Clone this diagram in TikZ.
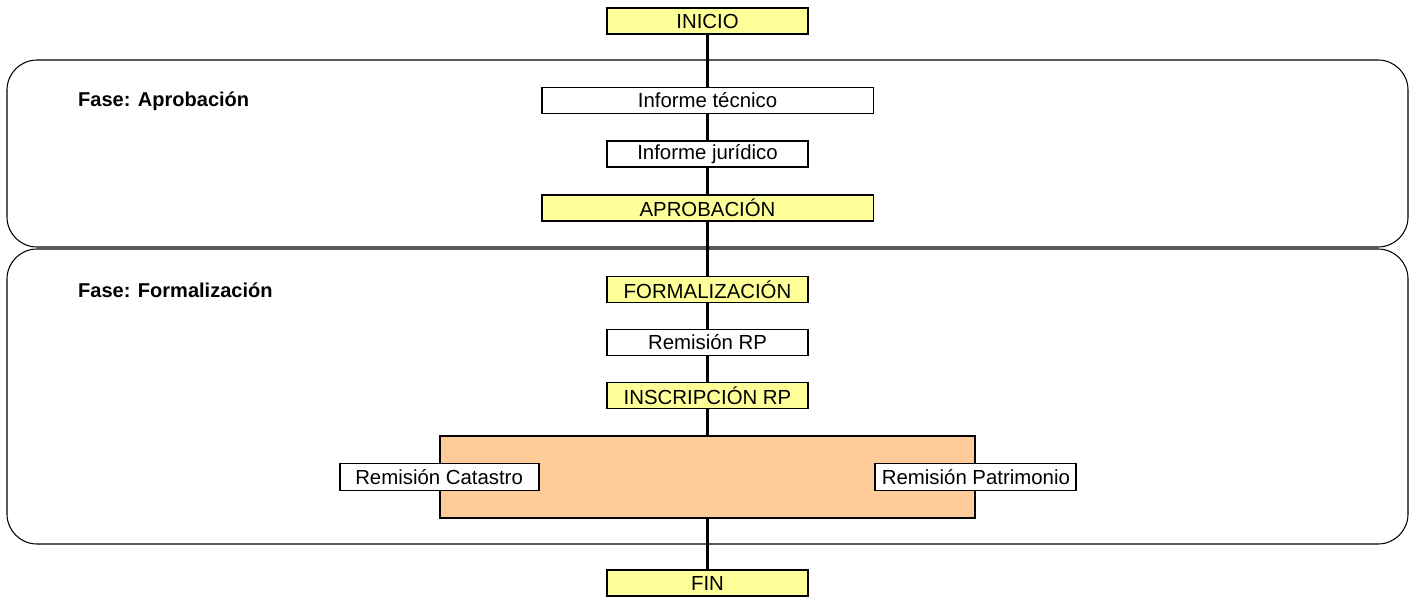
\documentclass[tikz,border=0pt]{standalone}
\usepackage{fontspec}
\setmainfont{Liberation Sans}
\usetikzlibrary{positioning}
\definecolor{amarillo}{HTML}{FFFF99}
\definecolor{naranja}{HTML}{FFCC99}

\begin{document}
\begin{tikzpicture}[
    x=0.02cm, y=-0.02cm,
    font=\fontsize{11.6}{13}\selectfont,
    box/.style={draw, line width=1.1pt, minimum width=4.02cm, minimum height=0.52cm, inner sep=0pt},
    hito/.style={box, fill=amarillo},
    fase/.style={draw, line width=0.6pt, rounded corners=0.6cm},
    linea/.style={line width=1.2pt}
]
\useasboundingbox (0,0) rectangle (1415,601);
% fases
\draw[fase] (7,60) rectangle (1408,247);
\draw[fase] (7,249) rectangle (1408,544);
\node[anchor=west, font=\fontsize{11.4}{13}\selectfont\bfseries] (faseA) at (72,101) {Fase: Aprobación};
\node[anchor=west, font=\fontsize{11.4}{13}\selectfont\bfseries] (faseF) at (72,290) {Fase: Formalización};
% pasos
\node[hito] (inicio) at (707.5,21) {INICIO};
\node[box, minimum width=6.64cm] (tecnico) at (707.5,100.5) {Informe técnico};
\node[box] (juridico) at (707.5,154) {Informe jurídico};
\node[hito, minimum width=6.64cm] (aprobacion) at (707.5,208) {APROBACIÓN};
\node[hito] (formal) at (707.5,289.5) {FORMALIZACIÓN};
\node[box] (remRP) at (707.5,342.5) {Remisión RP};
\node[hito] (inscrip) at (707.5,395.5) {INSCRIPCIÓN RP};
\node[box, fill=naranja, minimum width=10.7cm, minimum height=1.64cm] (remisiones) at (707.5,477) {};
\node[box, fill=white, minimum width=3.98cm, minimum height=0.54cm] (catastro) at (remisiones.west) {Remisión Catastro};
\node[box, fill=white, minimum height=0.54cm] (patrimonio) at (remisiones.east) {Remisión Patrimonio};
\node[hito] (fin) at (707.5,583) {FIN};
% conexiones
\draw[linea] (inicio) -- (tecnico);
\draw[linea] (tecnico) -- (juridico);
\draw[linea] (juridico) -- (aprobacion);
\draw[linea] (aprobacion) -- (formal);
\draw[linea] (formal) -- (remRP);
\draw[linea] (remRP) -- (inscrip);
\draw[linea] (inscrip) -- (remisiones);
\draw[linea] (remisiones) -- (fin);
\end{tikzpicture}
\end{document}
